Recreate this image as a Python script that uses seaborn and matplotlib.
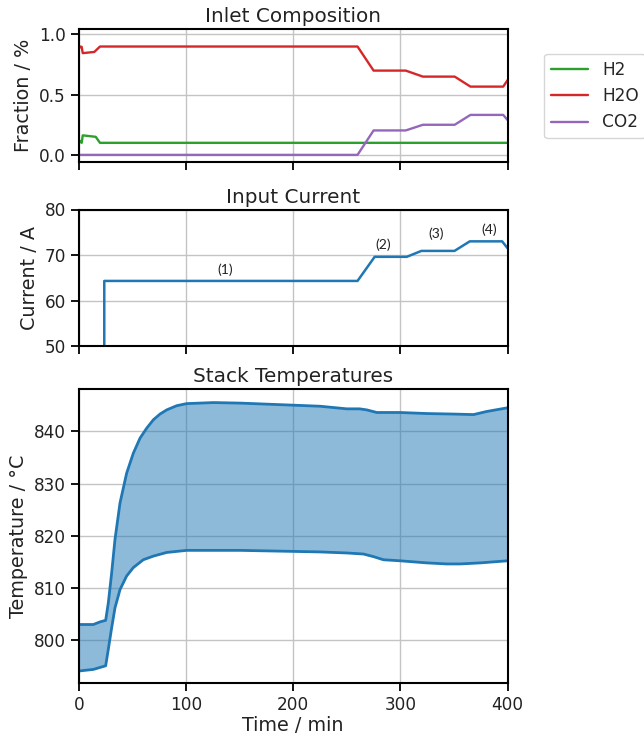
import numpy as np
import pandas as pd
import matplotlib
matplotlib.use("Agg")
import matplotlib.pyplot as plt
import seaborn as sns

# ---------------- data ----------------
# Inlet composition (time in min, fraction)
comp_time = [0, 1.2, 2.5, 3.5, 14.3, 19.6, 260, 275, 305, 321, 350.7, 365.4, 396, 400]
h2o_frac = [0.884, 0.90, 0.897, 0.845, 0.855, 0.90, 0.90, 0.70, 0.70, 0.65, 0.65, 0.567, 0.567, 0.62]
co2_frac = [0.0, 0.0, 0.0, 0.0, 0.0, 0.0, 0.0, 0.203, 0.203, 0.25, 0.25, 0.332, 0.332, 0.29]
h2_time = [0, 1.2, 2.5, 3.5, 15.6, 19.6, 400]
h2_frac = [0.122, 0.11, 0.10, 0.162, 0.15, 0.10, 0.10]

# Input current (time in min, A)
cur_time = [0, 23.5, 23.6, 260, 276, 306, 319.6, 350.5, 364.8, 395, 400]
cur_amp = [0, 0, 64.3, 64.3, 69.6, 69.6, 70.9, 70.9, 73.0, 73.0, 71.5]
cur_labels = ["(1)", "(2)", "(3)", "(4)"]
cur_label_x = [136.4, 284.4, 333.6, 382.5]
cur_label_y = [66.7, 72.2, 74.7, 75.6]

# Stack temperatures (time in min, degC)
tmax_time = [0, 13.4, 19.6, 24.9, 27.4, 30.5, 33.6, 38.3, 44.5, 50.7, 57, 63.2, 69.4,
             75.6, 81.9, 91.2, 100.5, 125.4, 150.4, 175.3, 200.2, 225, 250, 262,
             268.6, 278, 299.8, 324.7, 349.6, 368.3, 380.7, 400]
tmax_val = [803.0, 803.0, 803.5, 803.8, 807.2, 812.9, 819.3, 826.3, 832.0, 835.8, 838.7,
            840.6, 842.2, 843.3, 844.1, 844.9, 845.3, 845.5, 845.4, 845.2, 845.0, 844.8,
            844.3, 844.3, 844.1, 843.6, 843.6, 843.4, 843.3, 843.2, 843.8, 844.5]
tmin_time = [0, 13.4, 24.9, 27.4, 30.5, 33.6, 38.3, 44.5, 50.7, 60, 69.4, 81.9, 100.5,
             125.4, 150.4, 175.3, 200.2, 225, 250, 265.5, 274.9, 284.2, 299.8, 324.7,
             343.3, 355.8, 374.5, 400]
tmin_val = [794.1, 794.4, 795.1, 798.3, 802.4, 806.2, 809.7, 812.3, 813.9, 815.4, 816.1,
            816.8, 817.2, 817.2, 817.2, 817.1, 817.0, 816.9, 816.7, 816.5, 816.0, 815.4,
            815.2, 814.8, 814.6, 814.6, 814.8, 815.2]

# ---------------- style ----------------
sns.set_theme(context="notebook", style="ticks")
plt.rcParams.update({
    "axes.grid": True,
    "grid.color": "#c4c4c4",
    "grid.linewidth": 1.0,
    "axes.edgecolor": "black",
    "axes.linewidth": 1.5,
    "xtick.major.width": 1.3,
    "ytick.major.width": 1.3,
    "xtick.major.size": 6,
    "ytick.major.size": 6,
    "xtick.color": "black",
    "ytick.color": "black",
    "xtick.labelcolor": "#222222",
    "ytick.labelcolor": "#222222",
    "xtick.labelsize": 12.2,
    "ytick.labelsize": 12.2,
    "axes.labelsize": 13.8,
    "axes.titlesize": 14.4,
    "legend.fontsize": 12.2,
    "axes.labelcolor": "#222222",
    "axes.titlecolor": "#222222",
})
plt.rcParams["font.family"] = ["DejaVu Sans"]

blue = "#1f77b4"
fig = plt.figure(figsize=(6.44, 7.37), dpi=100)
W, H = 644, 737
def axes_px(l, t, r, b):
    return fig.add_axes([l / W, 1 - b / H, (r - l) / W, (b - t) / H])

ax1 = axes_px(79, 29.3, 507.5, 161.5)
ax2 = axes_px(79, 209.5, 507.5, 346)
ax3 = axes_px(79, 389, 507.5, 683)

# --- Inlet composition ---
df_comp = pd.DataFrame({"t": comp_time, "H2O": h2o_frac, "CO2": co2_frac})
df_h2 = pd.DataFrame({"t": h2_time, "H2": h2_frac})
sns.lineplot(data=df_h2, x="t", y="H2", ax=ax1, color="#2ca02c", lw=1.7, label="H2")
sns.lineplot(data=df_comp, x="t", y="H2O", ax=ax1, color="#d62728", lw=1.7, label="H2O")
sns.lineplot(data=df_comp, x="t", y="CO2", ax=ax1, color="#9467bd", lw=1.7, label="CO2")
ax1.set_xlim(0, 400)
ax1.set_ylim(-0.055, 1.043)
ax1.set_yticks([0.0, 0.5, 1.0])
ax1.set_xticks([0, 100, 200, 300, 400])
ax1.set_xticklabels([])
ax1.set_xlabel("")
ax1.set_ylabel("Fraction / %")
ax1.set_title("Inlet Composition", pad=5)
ax1.legend(loc="upper left", bbox_to_anchor=(1.086, 0.815), borderaxespad=0,
           frameon=True, handlelength=2.2)

# --- Input current ---
df_cur = pd.DataFrame({"t": cur_time, "I": cur_amp})
sns.lineplot(data=df_cur, x="t", y="I", ax=ax2, color=blue, lw=1.8, sort=False)
ax2.set_xlim(0, 400)
ax2.set_ylim(50, 80)
ax2.set_yticks([50, 60, 70, 80])
ax2.set_xticks([0, 100, 200, 300, 400])
ax2.set_xticklabels([])
ax2.set_xlabel("")
ax2.set_ylabel("Current / A")
ax2.set_title("Input Current", pad=5)
for lab, lx, ly in zip(cur_labels, cur_label_x, cur_label_y):
    ax2.text(lx, ly, lab, ha="center", va="center", fontsize=10,
             family=["Lato", "DejaVu Sans"], color="#222222")

# --- Stack temperatures ---
df_max = pd.DataFrame({"t": tmax_time, "T": tmax_val})
df_min = pd.DataFrame({"t": tmin_time, "T": tmin_val})
sns.lineplot(data=df_max, x="t", y="T", ax=ax3, color=blue, lw=2.0)
sns.lineplot(data=df_min, x="t", y="T", ax=ax3, color=blue, lw=2.0)
grid_t = sorted(set(tmax_time) | set(tmin_time))
ax3.fill_between(grid_t, np.interp(grid_t, tmin_time, tmin_val),
                 np.interp(grid_t, tmax_time, tmax_val), color=blue, alpha=0.5, lw=0)
ax3.set_xlim(0, 400)
ax3.set_ylim(791.8, 848.1)
ax3.set_yticks([800, 810, 820, 830, 840])
ax3.set_xticks([0, 100, 200, 300, 400])
ax3.set_xlabel("Time / min", labelpad=1)
ax3.set_ylabel("Temperature / °C")
ax3.set_title("Stack Temperatures", pad=5)

for ax in (ax1, ax2, ax3):
    ax.set_axisbelow(True)

fig.savefig("out.png", dpi=100)
